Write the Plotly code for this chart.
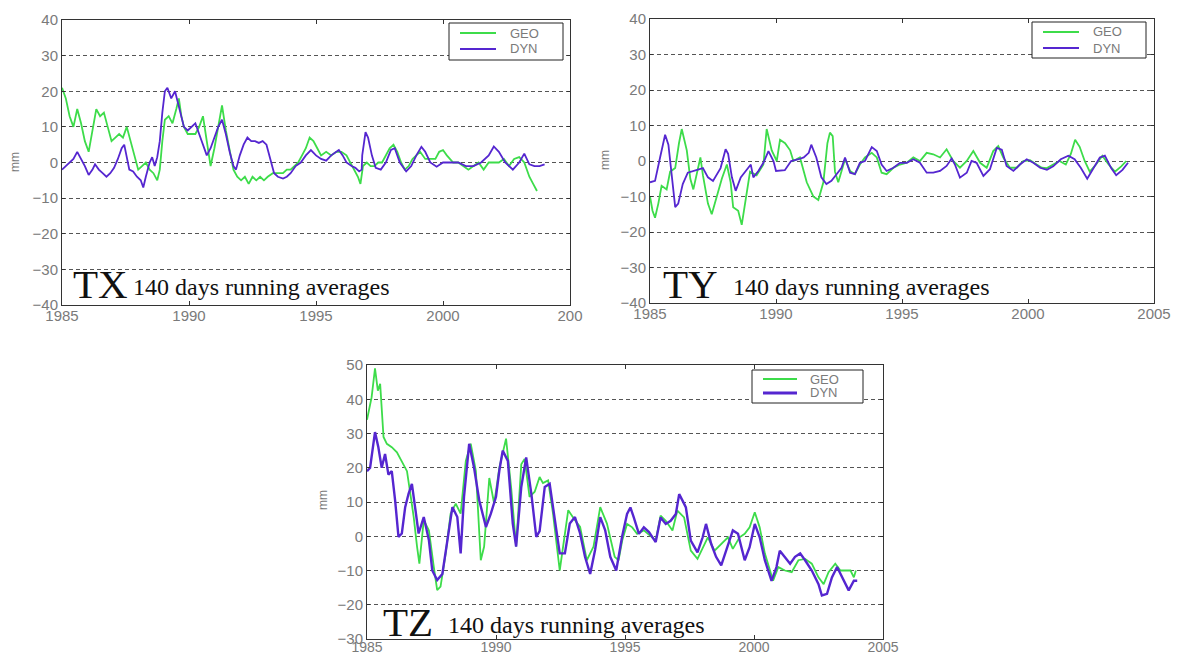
import plotly.graph_objects as go

# ---------------- TX : 140-day running averages (mm) ----------------
tx_geo_year = [1985.0, 1985.15, 1985.3, 1985.45, 1985.6, 1985.75, 1985.9, 1986.05, 1986.2, 1986.35,
               1986.5, 1986.65, 1986.8, 1986.95, 1987.1, 1987.25, 1987.4, 1987.55, 1987.7, 1987.85,
               1988.0, 1988.15, 1988.3, 1988.45, 1988.6, 1988.75, 1988.85, 1988.95, 1989.05, 1989.2,
               1989.35, 1989.5, 1989.6, 1989.7, 1989.8, 1989.95, 1990.1, 1990.25, 1990.4, 1990.55,
               1990.7, 1990.85, 1991.0, 1991.15, 1991.3, 1991.45, 1991.6, 1991.75, 1991.9, 1992.05,
               1992.2, 1992.35, 1992.5, 1992.65, 1992.8, 1992.95, 1993.1, 1993.3, 1993.5, 1993.7,
               1993.85, 1994.0, 1994.15, 1994.3, 1994.45, 1994.6, 1994.75, 1994.9, 1995.05, 1995.2,
               1995.4, 1995.6, 1995.8, 1996.0, 1996.2, 1996.35, 1996.5, 1996.65, 1996.75, 1996.85,
               1997.0, 1997.15, 1997.3, 1997.45, 1997.6, 1997.75, 1997.9, 1998.05, 1998.2, 1998.35,
               1998.5, 1998.65, 1998.8, 1998.95, 1999.1, 1999.3, 1999.5, 1999.7, 1999.85, 2000.0,
               2000.15, 2000.4, 2000.6, 2000.8, 2001.0, 2001.2, 2001.4, 2001.6, 2001.8, 2002.0,
               2002.2, 2002.4, 2002.6, 2002.8, 2003.0, 2003.2, 2003.4, 2003.55, 2003.7]
tx_geo = [21, 18, 13, 10, 15, 11, 6, 3, 9, 15,
          13, 14, 10, 6, 7, 8, 7, 10, 6, 2,
          -2, -1, 0, -2, -3, -5, -2, 6, 12, 13,
          11, 15, 18, 13, 10, 8, 8, 8, 10, 13,
          6, -1, 4, 10, 16, 9, 3, -2, -4, -5,
          -4, -6, -4, -5, -4, -5, -4, -3, -3, -3,
          -2, -2, -1, 0, 2, 4, 7, 6, 4, 2,
          3, 2, 3, 3, 2, 0, -2, -4, -6, -1,
          0, -1, -1, 0, 0, 2, 4, 5, 3, 0,
          -2, -1, 1, 2, 3, 1, 1, 1, 3, 3.5,
          2, 0, 0, -1, -2, -1, 0, -2, 0, 0,
          0, 1, -1, 1, 1.5, 0, -4, -6, -8]

tx_dyn_year = [1985.0, 1985.15, 1985.3, 1985.45, 1985.6, 1985.75, 1985.9, 1986.05, 1986.2, 1986.3,
               1986.45, 1986.6, 1986.75, 1986.9, 1987.05, 1987.2, 1987.35, 1987.45, 1987.55, 1987.65,
               1987.8, 1987.95, 1988.1, 1988.2, 1988.3, 1988.45, 1988.55, 1988.65, 1988.75, 1988.85,
               1988.95, 1989.05, 1989.15, 1989.3, 1989.45, 1989.55, 1989.65, 1989.8, 1989.95, 1990.1,
               1990.25, 1990.4, 1990.55, 1990.7, 1990.85, 1991.0, 1991.15, 1991.3, 1991.45, 1991.6,
               1991.75, 1991.85, 1992.0, 1992.15, 1992.3, 1992.45, 1992.6, 1992.75, 1992.9, 1993.05,
               1993.2, 1993.35, 1993.5, 1993.7, 1993.85, 1994.0, 1994.2, 1994.4, 1994.6, 1994.8,
               1995.0, 1995.2, 1995.4, 1995.6, 1995.8, 1995.9, 1996.05, 1996.2, 1996.4, 1996.55,
               1996.7, 1996.8, 1996.82, 1996.95, 1997.05, 1997.2, 1997.35, 1997.55, 1997.75, 1997.95,
               1998.1, 1998.3, 1998.55, 1998.75, 1998.95, 1999.15, 1999.3, 1999.5, 1999.75, 2000.0,
               2000.3, 2000.6, 2000.9, 2001.2, 2001.5, 2001.8, 2002.0, 2002.2, 2002.45, 2002.75,
               2003.0, 2003.2, 2003.4, 2003.6, 2003.8, 2004.0]
tx_dyn = [-2, -1, 0, 1, 3, 1, -1, -3.5, -2, -0.5,
          -2, -3, -4, -3, -1.5, 1, 4, 5, 1, -2,
          -2.5, -4, -5, -7, -4, 0, 1.5, -1, 1.5, 6,
          14, 20, 21, 18, 20, 17, 14, 10, 9, 10,
          11, 8, 5, 2, 4, 7, 10, 12, 8, 3,
          -1, -2, 2, 5, 7, 6, 6, 5.5, 6, 5,
          1, -3, -4, -4.5, -4, -3, -1, 0, 2, 3.5,
          2, 1, 0.5, 2, 3, 3.5, 2, 0, -1, -1.5,
          -2.5, -2, 2, 8.5, 7, 2, -1.5, -2, 0, 3.5,
          4, 0, -2.5, -1, 2, 4.4, 3, 0, -1.2, 0,
          0, 0, -1, -1, 0, 2, 4.5, 3, 0, -2,
          0, 2.5, -0.5, -1, -1, -0.5]

# ---------------- TY ----------------
ty_geo_year = [1985.0, 1985.1, 1985.2, 1985.33, 1985.46, 1985.66, 1985.8, 1986.0, 1986.15, 1986.26,
               1986.46, 1986.6, 1986.72, 1986.85, 1987.0, 1987.1, 1987.3, 1987.45, 1987.65, 1987.85,
               1988.05, 1988.2, 1988.3, 1988.5, 1988.64, 1988.84, 1988.97, 1989.23, 1989.5, 1989.63,
               1989.83, 1990.03, 1990.16, 1990.36, 1990.56, 1990.69, 1990.95, 1991.22, 1991.48, 1991.68,
               1991.88, 1992.04, 1992.14, 1992.25, 1992.34, 1992.47, 1992.6, 1992.74, 1992.94, 1993.13,
               1993.33, 1993.53, 1993.8, 1994.0, 1994.19, 1994.39, 1994.66, 1994.92, 1995.19, 1995.45,
               1995.71, 1995.98, 1996.24, 1996.51, 1996.77, 1997.03, 1997.3, 1997.57, 1997.83, 1998.1,
               1998.36, 1998.62, 1998.82, 1999.02, 1999.28, 1999.55, 1999.81, 2000.08, 2000.34, 2000.55,
               2000.75, 2001.0, 2001.25, 2001.5, 2001.7, 2001.87, 2002.05, 2002.25, 2002.45, 2002.7,
               2002.95, 2003.2, 2003.45, 2003.7, 2003.9]
ty_geo = [-10, -14, -16, -12, -7, -8, -3, -2, 5, 9,
          3, -5, -8, -4, 1, -4, -12, -15, -10, -5,
          -1, -6, -13, -14, -18, -8, -3, -4, -1, 9,
          3, 0, 6, 5, 3, 0, 1, -6, -10, -11,
          -6, 5, 8, 7, -3, -6, -2.8, 0.5, -2.8, -3.7,
          -1, 1, 2.3, 1, -3.3, -3.7, -1.9, -1, -0.5, 1,
          0, 2.3, 1.9, 1, 3.3, 0, -1.9, 0, 2.8, -0.5,
          -1.9, 2.8, 4.2, 1, -1.9, -1.9, 0, 0.2, -1, -1.9,
          -2, -1, 0, -1, 2, 6, 4, 0, -3, -1,
          1.5, -1, -3, -1.5, 0]

ty_dyn_year = [1985.0, 1985.2, 1985.4, 1985.6, 1985.73, 1985.86, 1986.0, 1986.12, 1986.3, 1986.5,
               1986.7, 1986.9, 1987.1, 1987.3, 1987.5, 1987.8, 1988.0, 1988.1, 1988.25, 1988.4,
               1988.6, 1988.8, 1989.0, 1989.1, 1989.3, 1989.5, 1989.7, 1989.9, 1990.0, 1990.35,
               1990.6, 1990.9, 1991.1, 1991.3, 1991.4, 1991.6, 1991.8, 1992.0, 1992.2, 1992.45,
               1992.6, 1992.74, 1992.94, 1993.13, 1993.33, 1993.53, 1993.8, 1994.0, 1994.19, 1994.39,
               1994.66, 1994.92, 1995.19, 1995.45, 1995.71, 1995.98, 1996.24, 1996.51, 1996.77, 1996.97,
               1997.1, 1997.3, 1997.57, 1997.76, 1997.96, 1998.23, 1998.49, 1998.76, 1998.96, 1999.15,
               1999.42, 1999.68, 1999.95, 2000.21, 2000.48, 2000.75, 2001.0, 2001.3, 2001.6, 2001.85,
               2002.1, 2002.35, 2002.6, 2002.85, 2003.05, 2003.3, 2003.5, 2003.75, 2003.97]
ty_dyn = [-6, -5.6, 1, 7.4, 4.6, -4.6, -13, -12, -6.5, -3.3,
          -2.8, -2.3, -2, -4.6, -5.6, -2, 3.3, 2, -4.6, -8.4,
          -4.6, -2.8, -1, -4.6, -2.8, -0.5, 2.8, 0, -2.8, -2.6,
          0, 0.5, 1, 2.3, 4.6, 1, -4.6, -6.5, -5.6, -3.3,
          -1.9, 1, -3.3, -3.7, -0.5, 0, 3.9, 2.8, -1, -2.8,
          -1.9, -0.5, -0.5, 0.5, -0.5, -3.3, -3.3, -2.8, -1.4, 0.7,
          -1, -4.7, -3.3, 0, -0.5, -4.2, -2.3, 3.7, 3.2, -1.4,
          -2.8, -1, 0.5, -0.5, -1.9, -2.5, -1.5, 0.5, 1.5, 0.5,
          -2, -5, -2, 1, 1.5, -2, -4, -2.5, -0.5]

# ---------------- TZ ----------------
tz_geo_year = [1985.0, 1985.05, 1985.18, 1985.31, 1985.42, 1985.51, 1985.64, 1985.77, 1985.96, 1986.16,
               1986.35, 1986.55, 1986.68, 1986.81, 1986.94, 1987.03, 1987.2, 1987.4, 1987.59, 1987.72,
               1987.85, 1988.05, 1988.24, 1988.44, 1988.63, 1988.83, 1989.02, 1989.22, 1989.41, 1989.54,
               1989.74, 1989.93, 1990.13, 1990.39, 1990.59, 1990.78, 1990.98, 1991.11, 1991.3, 1991.5,
               1991.69, 1991.82, 1992.02, 1992.21, 1992.47, 1992.6, 1992.8, 1993.06, 1993.26, 1993.52,
               1993.78, 1994.04, 1994.3, 1994.6, 1994.75, 1994.9, 1995.08, 1995.28, 1995.47, 1995.73,
               1995.99, 1996.19, 1996.38, 1996.58, 1996.84, 1997.03, 1997.29, 1997.55, 1997.81, 1998.01,
               1998.21, 1998.47, 1998.73, 1998.99, 1999.18, 1999.44, 1999.64, 1999.83, 2000.03, 2000.22,
               2000.42, 2000.74, 2000.94, 2001.2, 2001.46, 2001.72, 2001.98, 2002.24, 2002.5, 2002.7,
               2002.89, 2003.15, 2003.35, 2003.54, 2003.74, 2003.87, 2003.95]
tz_geo = [34, 36, 40.6, 49, 42.5, 44.5, 29, 27, 26, 24.5,
          22, 19, 12.4, 5.6, -3, -8, 4.7, 1.7, -9, -15.7,
          -14.7, -5, 6.6, 9.5, 6.6, 22, 27, 19, -7, -3,
          17, 9.5, 20, 28.5, 14, -3, 21, 22.6, 11.5, 13,
          17.3, 15.5, 16.3, 6.6, -10, -3, 7.6, 4.7, 2.7, -7,
          -3, 8.5, 3.7, -6, -7, -1, 3.6, 2.6, 0.7, 1.7,
          0.2, -1.2, 6, 4.5, 1.7, 7.5, 5.5, -4.2, -6.6, -3.2,
          -0.3, -4.2, -2.2, -0.3, -3.7, -0.3, 0.7, 2.6, 7, 2.6,
          -5, -13, -9, -10, -10.5, -7, -6.6, -8, -12, -14,
          -10.5, -8, -10, -10, -10, -12, -10]

tz_dyn_year = [1985.0, 1985.12, 1985.31, 1985.44, 1985.57, 1985.7, 1985.83, 1985.96, 1986.09, 1986.22,
               1986.35, 1986.48, 1986.61, 1986.74, 1986.88, 1987.0, 1987.2, 1987.4, 1987.53, 1987.72,
               1987.92, 1988.11, 1988.31, 1988.5, 1988.63, 1988.76, 1988.96, 1989.15, 1989.35, 1989.61,
               1989.8, 1990.0, 1990.13, 1990.26, 1990.46, 1990.65, 1990.78, 1990.98, 1991.17, 1991.37,
               1991.56, 1991.69, 1991.89, 1992.08, 1992.28, 1992.47, 1992.67, 1992.86, 1993.06, 1993.26,
               1993.45, 1993.65, 1993.84, 1994.04, 1994.23, 1994.43, 1994.66, 1994.89, 1995.08, 1995.21,
               1995.34, 1995.54, 1995.73, 1995.93, 1996.19, 1996.38, 1996.58, 1996.77, 1996.97, 1997.1,
               1997.23, 1997.36, 1997.55, 1997.81, 1998.01, 1998.14, 1998.34, 1998.53, 1998.73, 1998.92,
               1999.18, 1999.38, 1999.64, 1999.83, 2000.03, 2000.22, 2000.42, 2000.68, 2000.87, 2001.0,
               2001.2, 2001.4, 2001.59, 2001.79, 2001.98, 2002.24, 2002.5, 2002.63, 2002.83, 2003.02,
               2003.22, 2003.41, 2003.67, 2003.87, 2004.0]
tz_dyn = [19, 20, 30.4, 26, 20, 24, 18, 19, 10.5, -0.2,
          0.8, 8.5, 12.4, 15.3, 7.6, 0.8, 5.6, -1.2, -10, -12.8,
          -11, -1.2, 8.5, 5.6, -5, 11.5, 27, 20, 10.5, 2.7,
          6.6, 11.5, 19.2, 25, 22, 3.7, -3, 14.4, 23, 12.4,
          -0.2, 1.5, 14.4, 15.3, 4.7, -5, -5, 3.7, 5.6, 0.8,
          -6, -11, -4, 5.6, 1.8, -6, -10, 0, 6.5, 8.4,
          5.5, 0.7, 2.6, 1.2, -1.7, 5.5, 3.6, 4.5, 6.5, 12.3,
          10.4, 8.4, -1.3, -4.7, -0.3, 3.6, -2.2, -6, -8.5, -4,
          1.7, 0.7, -7, -3.2, 3.6, -0.3, -7, -13, -9, -4.2,
          -6, -8, -6, -5, -7, -10, -14, -17.3, -16.8, -12,
          -9, -12, -15.8, -13, -13]

year_ticks = [1985, 1990, 1995, 2000, 2005]
tx_tick_text = ["1985", "1990", "1995", "2000", "200"]
full_tick_text = ["1985", "1990", "1995", "2000", "2005"]
series_names = ["GEO", "DYN"]

GEO_COLOR = "#3ddc4a"
DYN_COLOR = "#5526d0"
W, H = 1179, 654


def px_x(p):
    return p / W


def px_y(p):
    return 1 - p / H


fig = go.Figure()

panels = [
    # (axis suffix, geo x, geo y, dyn x, dyn y, dyn width)
    ("", tx_geo_year, tx_geo, tx_dyn_year, tx_dyn, 1.8),
    ("2", ty_geo_year, ty_geo, ty_dyn_year, ty_dyn, 1.8),
    ("3", tz_geo_year, tz_geo, tz_dyn_year, tz_dyn, 2.4),
]
for suf, gx, gy, dx, dy, dw in panels:
    fig.add_trace(go.Scatter(x=gx, y=gy, mode="lines", name=series_names[0],
                             line=dict(color=GEO_COLOR, width=1.8),
                             xaxis="x" + suf, yaxis="y" + suf, showlegend=False))
    fig.add_trace(go.Scatter(x=dx, y=dy, mode="lines", name=series_names[1],
                             line=dict(color=DYN_COLOR, width=dw),
                             xaxis="x" + suf, yaxis="y" + suf, showlegend=False))

tick_font = dict(family="Liberation Sans, Arial, sans-serif", size=15, color="#7a7a7a")

common_x = dict(range=[1985, 2005], tickvals=year_ticks, showgrid=False, zeroline=False,
                showline=True, linecolor="#333", linewidth=1, mirror="ticks",
                ticks="inside", ticklen=4, tickcolor="#333", tickfont=tick_font,
                automargin=False, ticklabelstandoff=-3)
common_y = dict(dtick=10, showgrid=True, gridcolor="#555", gridwidth=1, griddash="4px,3px",
                zeroline=False, showline=True, linecolor="#333", linewidth=1, mirror="ticks",
                ticks="inside", ticklen=3, tickcolor="#333", tickfont=tick_font,
                automargin=False)

fig.update_layout(
    width=W, height=H, margin=dict(l=0, r=0, t=0, b=0, autoexpand=False),
    paper_bgcolor="white", plot_bgcolor="white", showlegend=False,
    xaxis=dict(common_x, domain=[px_x(62), px_x(570)], anchor="y", ticktext=tx_tick_text),
    yaxis=dict(common_y, domain=[px_y(305), px_y(20)], anchor="x", range=[-40, 40]),
    xaxis2=dict(common_x, domain=[px_x(650), px_x(1154)], anchor="y2", ticktext=full_tick_text),
    yaxis2=dict(common_y, domain=[px_y(303), px_y(19)], anchor="x2", range=[-40, 40]),
    xaxis3=dict(common_x, domain=[px_x(367), px_x(883)], anchor="y3", ticktext=full_tick_text,
                tickfont=dict(tick_font, size=14), ticklabelstandoff=-5),
    yaxis3=dict(common_y, domain=[px_y(639), px_y(365)], anchor="x3", range=[-30, 50]),
)

# Legend boxes: (left, top, right, bottom, line x0, line x1, text x, row y's, dyn width)
legends = [
    (449, 23, 563, 60, 460, 496, 508, (33, 49), 1.8),
    (1032, 22, 1146, 58, 1043, 1079, 1091, (32, 48), 1.8),
    (752, 370, 863, 403, 763, 797, 808, (379, 393), 3),
]
legend_font = dict(family="Liberation Sans, Arial, sans-serif", size=13, color="#7a7a7a")
for l, t, r, b, lx0, lx1, tx, rows, dw in legends:
    fig.add_shape(type="rect", xref="paper", yref="paper",
                  x0=px_x(l), x1=px_x(r), y0=px_y(b), y1=px_y(t),
                  line=dict(color="#222", width=1), fillcolor="white", layer="above")
    for name, ry, col, lw in [(series_names[0], rows[0], GEO_COLOR, 1.8),
                              (series_names[1], rows[1], DYN_COLOR, dw)]:
        fig.add_shape(type="line", xref="paper", yref="paper",
                      x0=px_x(lx0), x1=px_x(lx1), y0=px_y(ry), y1=px_y(ry),
                      line=dict(color=col, width=lw), layer="above")
        fig.add_annotation(text=name, xref="paper", yref="paper", x=px_x(tx), y=px_y(ry),
                           xanchor="left", yanchor="middle", showarrow=False, font=legend_font)

serif = "Liberation Serif, Times New Roman, serif"
labels = [
    ("TX", 71, 284, 131, 287),
    ("TY", 661, 284, 731, 287),
    ("TZ", 381, 622, 446, 625),
]
for name, bx, by, sx, sy in labels:
    fig.add_annotation(text=name, xref="paper", yref="paper", x=px_x(bx), y=px_y(by),
                       xanchor="left", yanchor="middle", showarrow=False,
                       font=dict(family=serif, size=41, color="#111"))
    fig.add_annotation(text="140 days running averages", xref="paper", yref="paper",
                       x=px_x(sx), y=px_y(sy), xanchor="left", yanchor="middle", showarrow=False,
                       font=dict(family=serif, size=24, color="#111"))

for mx, my in [(15, 162), (605, 160), (323, 500)]:
    fig.add_annotation(text="mm", xref="paper", yref="paper", x=px_x(mx), y=px_y(my),
                       xanchor="center", yanchor="middle", textangle=-90, showarrow=False,
                       font=dict(family="Liberation Sans, Arial, sans-serif", size=12, color="#777"))

fig.write_html("out.html")
